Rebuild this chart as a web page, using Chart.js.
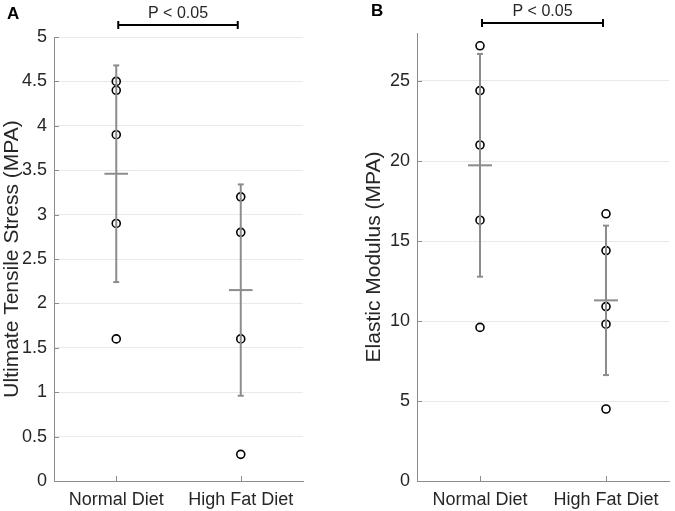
<!DOCTYPE html>
<html>
<head>
<meta charset="utf-8">
<script src="https://cdn.jsdelivr.net/npm/chart.js@4.4.0/dist/chart.umd.min.js"></script>
<style>
  html, body { margin: 0; padding: 0; background: #fff; }
  #wrap { position: relative; width: 675px; height: 511px; }
  .panel { position: absolute; top: 0; height: 511px; }
  #panelA { left: 0; width: 337px; }
  #panelB { left: 337px; width: 338px; }
</style>
</head>
<body>
<div id="wrap">
  <div class="panel" id="panelA"><canvas id="chartA"></canvas></div>
  <div class="panel" id="panelB"><canvas id="chartB"></canvas></div>
</div>
<script>
// Группы
const groups = ["Normal Diet", "High Fat Diet"];

// Панель A: предел прочности (MPA)
const stressNormal = [4.5, 4.4, 3.9, 2.9, 1.6];
const stressHighFat = [3.2, 2.8, 1.6, 0.3];
const stressMean = [3.46, 2.15];
const stressSd = [1.22, 1.19];
const stressTicks = [0, 0.5, 1, 1.5, 2, 2.5, 3, 3.5, 4, 4.5, 5];

// Панель B: модуль упругости (MPA)
const modulusNormal = [27.2, 24.4, 21.0, 16.3, 9.6];
const modulusHighFat = [16.7, 14.4, 10.9, 9.8, 4.5];
const modulusMean = [19.73, 11.29];
const modulusSd = [6.96, 4.67];
const modulusTicks = [0, 5, 10, 15, 20, 25];

const FONT = "'Liberation Sans', Arial, sans-serif";
const TEXT = "#262626";
const GRAY = "#8c8c8c";

// Рисуем доп. элементы: метку панели, засечки, линию значимости
const extrasPlugin = {
  id: "extras",
  afterDraw(chart) {
    const o = chart.options.plugins.extras;
    const ctx = chart.ctx;
    const xs = chart.scales.x;
    const ys = chart.scales.y;
    const area = chart.chartArea;
    ctx.save();

    // засечки внутрь
    ctx.strokeStyle = GRAY;
    ctx.lineWidth = 1;
    ys.ticks.forEach((t) => {
      const y = Math.round(ys.getPixelForValue(t.value)) + 0.5;
      ctx.beginPath();
      ctx.moveTo(area.left, y);
      ctx.lineTo(area.left + 5, y);
      ctx.stroke();
    });
    [1, 2].forEach((v) => {
      const x = Math.round(xs.getPixelForValue(v)) + 0.5;
      ctx.beginPath();
      ctx.moveTo(x, area.bottom);
      ctx.lineTo(x, area.bottom - 5);
      ctx.stroke();
    });

    // буква панели
    ctx.fillStyle = "#000";
    ctx.font = "bold 17px " + FONT;
    ctx.textAlign = "left";
    ctx.textBaseline = "middle";
    ctx.fillText(o.letter, o.letterX, o.letterY);

    // линия значимости
    const x1 = xs.getPixelForValue(1) + 2;
    const x2 = xs.getPixelForValue(2) - 3;
    const y = o.barY;
    ctx.strokeStyle = "#000";
    ctx.lineWidth = 2;
    ctx.beginPath();
    ctx.moveTo(x1, y);
    ctx.lineTo(x2, y);
    ctx.moveTo(x1, y - 4);
    ctx.lineTo(x1, y + 4);
    ctx.moveTo(x2, y - 4);
    ctx.lineTo(x2, y + 4);
    ctx.stroke();

    ctx.fillStyle = TEXT;
    ctx.font = "16px " + FONT;
    ctx.textAlign = "center";
    ctx.textBaseline = "bottom";
    ctx.fillText("P < 0.05", (x1 + x2) / 2, y - 3);
    ctx.restore();
  },
};

function buildDatasets(normal, highFat, mean, sd) {
  const ds = [];
  // планки погрешностей и средние
  mean.forEach((m, i) => {
    const x = i + 1;
    ds.push({
      type: "scatter",
      data: [
        { x: x, y: m - sd[i] },
        { x: x, y: m + sd[i] },
      ],
      showLine: true,
      borderColor: GRAY,
      borderWidth: 2,
      pointStyle: "line",
      pointRadius: 3,
      pointBorderColor: GRAY,
      pointBorderWidth: 2,
    });
    ds.push({
      type: "scatter",
      data: [
        { x: x - 0.095, y: m },
        { x: x + 0.095, y: m },
      ],
      showLine: true,
      borderColor: GRAY,
      borderWidth: 2,
      pointRadius: 0,
    });
  });
  // точки
  [normal, highFat].forEach((vals, i) => {
    ds.push({
      type: "scatter",
      data: vals.map((v) => ({ x: i + 1, y: v })),
      pointStyle: "circle",
      pointRadius: 4,
      pointBorderWidth: 1.6,
      pointBorderColor: "#000",
      pointBackgroundColor: "rgba(255,255,255,0)",
    });
  });
  return ds;
}

function createPanel(id, cfg) {
  const ctx = document.getElementById(id).getContext("2d");
  return new Chart(ctx, {
    type: "scatter",
    data: {
      datasets: buildDatasets(cfg.normal, cfg.highFat, cfg.mean, cfg.sd),
    },
    options: {
      responsive: true,
      maintainAspectRatio: false,
      animation: false,
      layout: { padding: cfg.padding },
      plugins: {
        legend: { display: false },
        tooltip: { enabled: false },
        extras: cfg.extras,
      },
      scales: {
        x: {
          type: "linear",
          min: 0.5,
          max: 2.5,
          afterBuildTicks: (axis) => {
            axis.ticks = [{ value: 1 }, { value: 2 }];
          },
          afterFit: (axis) => {
            axis.height = 30;
          },
          ticks: {
            color: TEXT,
            font: { family: FONT, size: 18 },
            padding: 8,
            maxRotation: 0,
            autoSkip: false,
            callback: (v) => groups[v - 1],
          },
          grid: { display: false, drawTicks: false },
          border: { color: GRAY, width: 1 },
        },
        y: {
          min: 0,
          max: cfg.max,
          afterBuildTicks: (axis) => {
            axis.ticks = cfg.ticks.map((v) => ({ value: v }));
          },
          afterFit: (axis) => {
            axis.width = cfg.yWidth;
          },
          ticks: {
            color: TEXT,
            font: { family: FONT, size: 18 },
            padding: 7,
            callback: (v) => String(v),
          },
          grid: { color: "#e9e9e9", lineWidth: 1, drawTicks: false },
          border: { color: GRAY, width: 1 },
          title: {
            display: true,
            text: cfg.title,
            color: TEXT,
            font: { family: FONT, size: 21 },
            padding: { top: 0, bottom: 0 },
          },
        },
      },
    },
    plugins: [extrasPlugin],
  });
}

createPanel("chartA", {
  normal: stressNormal,
  highFat: stressHighFat,
  mean: stressMean,
  sd: stressSd,
  ticks: stressTicks,
  max: 5,
  title: "Ultimate Tensile Stress (MPA)",
  yWidth: 54,
  padding: { left: 0, right: 34, top: 37, bottom: 0 },
  extras: { letter: "A", letterX: 7, letterY: 14, barY: 25 },
});

createPanel("chartB", {
  normal: modulusNormal,
  highFat: modulusHighFat,
  mean: modulusMean,
  sd: modulusSd,
  ticks: modulusTicks,
  max: 28,
  title: "Elastic Modulus (MPA)",
  yWidth: 55,
  padding: { left: 25, right: 2, top: 33, bottom: 0 },
  extras: { letter: "B", letterX: 34, letterY: 11, barY: 23 },
});
</script>
</body>
</html>
